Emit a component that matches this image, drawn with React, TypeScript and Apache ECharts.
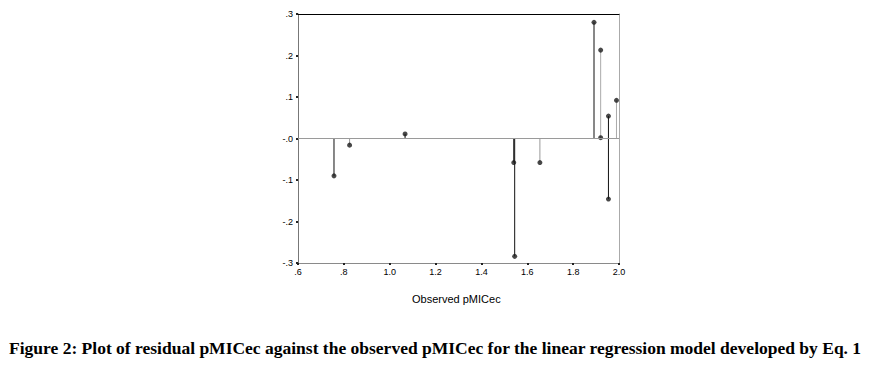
import React, { useEffect, useRef } from "react";
import * as echarts from "echarts";

// Observed pMICec (x) and residual pMICec (y)
const observed = [0.757, 0.825, 1.067, 1.541, 1.545, 1.655, 1.891, 1.920, 1.920, 1.954, 1.954, 1.989];
const residual = [-0.090, -0.016, 0.011, -0.058, -0.284, -0.058, 0.280, 0.213, 0.002, 0.054, -0.146, 0.092];

const xMin = 0.6;
const xMax = 2.0;
const xStep = 0.2;
const yMin = -0.3;
const yMax = 0.3;
const yStep = 0.1;

const xTitle = "Observed pMICec";
const caption =
  "Figure 2: Plot of residual pMICec against the observed pMICec for the linear regression model developed by Eq. 1";

// stem shade (style only)
const STEM_COLORS = ["#111", "#999", "#111", "#111", "#111", "#999", "#111", "#aaa", "#aaa", "#111", "#111", "#aaa"];

const fmtX = (v: number) => {
  const s = v.toFixed(1);
  return s.startsWith("0") ? s.slice(1) : s;
};
const fmtY = (v: number) => {
  if (Math.abs(v) < 1e-9) return "-.0";
  const s = Math.abs(v).toFixed(1).slice(1);
  return (v < 0 ? "-" : "") + s;
};

export default function App() {
  const ref = useRef<HTMLDivElement>(null);
  useEffect(() => {
    if (!ref.current) return;
    const chart = echarts.init(ref.current, undefined, { renderer: "svg" });
    const pts = observed.map((x, i) => [x, residual[i]]);
    const labelStyle = { fontFamily: "'Liberation Sans', Arial, sans-serif", fontSize: 9, color: "#000" };
    chart.setOption({
      animation: false,
      backgroundColor: "#fff",
      grid: { left: 298, right: 264, top: 14, bottom: 107, containLabel: false },
      xAxis: [
        {
          type: "value",
          min: xMin,
          max: xMax,
          interval: xStep,
          position: "bottom",
          axisLine: { show: true, onZero: false, lineStyle: { color: "#8a8a8a", width: 1 } },
          axisTick: { show: true, length: 2, lineStyle: { color: "#222", width: 2 } },
          splitLine: { show: false },
          axisLabel: { ...labelStyle, margin: 4, formatter: fmtX },
        },
        {
          type: "value",
          min: xMin,
          max: xMax,
          interval: xStep,
          position: "top",
          axisLine: { show: true, onZero: false, lineStyle: { color: "#000", width: 1 } },
          axisTick: { show: false },
          axisLabel: { show: false },
          splitLine: { show: false },
        },
      ],
      yAxis: [
        {
          type: "value",
          min: yMin,
          max: yMax,
          interval: yStep,
          position: "left",
          axisLine: { show: true, onZero: false, lineStyle: { color: "#777", width: 1 } },
          axisTick: { show: true, length: 2, lineStyle: { color: "#222", width: 2 } },
          splitLine: { show: false },
          axisLabel: { ...labelStyle, margin: 5, formatter: fmtY },
        },
        {
          type: "value",
          min: yMin,
          max: yMax,
          interval: yStep,
          position: "right",
          axisLine: { show: true, onZero: false, lineStyle: { color: "#aaa", width: 1 } },
          axisTick: { show: false },
          axisLabel: { show: false },
          splitLine: { show: false },
        },
      ],
      series: [
        {
          type: "custom",
          xAxisIndex: 0,
          yAxisIndex: 0,
          data: pts,
          encode: { x: 0, y: 1 },
          renderItem: (params: any, api: any) => {
            const x = api.value(0);
            const y = api.value(1);
            const p0 = api.coord([x, 0]);
            const p1 = api.coord([x, y]);
            return {
              type: "line",
              shape: { x1: p0[0], y1: p0[1], x2: p1[0], y2: p1[1] },
              style: { stroke: STEM_COLORS[params.dataIndex], lineWidth: 1 },
            };
          },
          z: 2,
        },
        {
          type: "scatter",
          xAxisIndex: 0,
          yAxisIndex: 0,
          data: pts,
          symbol: "circle",
          symbolSize: 5,
          itemStyle: { color: "#1a1a1a" },
          z: 3,
          markLine: {
            silent: true,
            symbol: "none",
            label: { show: false },
            lineStyle: { color: "#9a9a9a", width: 1, type: "solid" },
            data: [{ yAxis: 0 }],
          },
        },
      ],
      graphic: [
        {
          type: "text",
          left: 412,
          top: 293,
          style: {
            text: xTitle,
            fontFamily: "'Liberation Sans', Arial, sans-serif",
            fontSize: 11,
            fill: "#000",
          },
        },
        {
          type: "text",
          left: 9,
          top: 339,
          style: {
            text: caption,
            fontFamily: "'Liberation Serif', 'Times New Roman', serif",
            fontWeight: "bold",
            fontSize: 17.5,
            fill: "#000",
          },
        },
      ],
    });
    return () => chart.dispose();
  }, []);
  return (
    <div
      ref={ref}
      style={{ position: "absolute", left: 0, top: 0, width: 883, height: 370 }}
    />
  );
}
